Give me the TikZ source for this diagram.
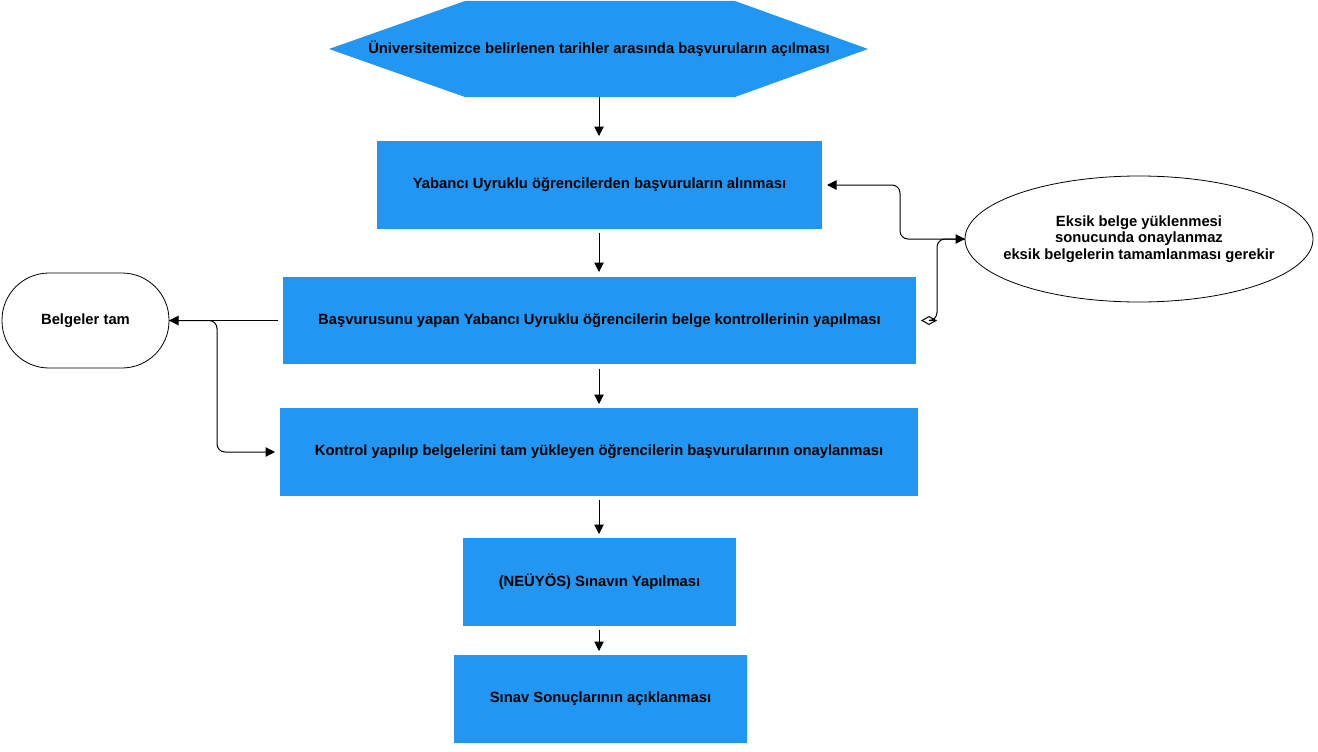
\documentclass[tikz,border=0pt]{standalone}
\usepackage{fontspec}
\setmainfont{Liberation Sans}
\usetikzlibrary{arrows.meta,shapes.geometric}
\definecolor{boxblue}{RGB}{33,150,243}
\tikzset{
  txt/.style={font=\bfseries\fontsize{14.8}{16.5}\selectfont, align=center, inner sep=0pt, outer sep=0pt},
  bluebox/.style={txt, fill=boxblue, draw=none},
  whiteshape/.style={txt, draw=black, line width=0.8pt, fill=white},
  arr/.style={-{Triangle[length=9.5pt,width=9.5pt]}, line width=1pt, black},
}
\begin{document}
\begin{tikzpicture}[x=1pt,y=-1pt]
\useasboundingbox (0,0) rectangle (1318,752);
% hexagon
\fill[boxblue] (329,49) -- (465,1) -- (735,1) -- (868,49) -- (735,97) -- (465,97) -- cycle;
\node[txt, minimum width=539pt, minimum height=96pt] (hex) at (599,49) {Üniversitemizce belirlenen tarihler arasında başvuruların açılması};
\node[bluebox, minimum width=445pt, minimum height=88pt] (b1) at (599.5,185) {Yabancı Uyruklu öğrencilerden başvuruların alınması};
\node[bluebox, minimum width=633pt, minimum height=87pt] (b2) at (599.5,320.5) {Başvurusunu yapan Yabancı Uyruklu öğrencilerin belge kontrollerinin yapılması};
\node[bluebox, minimum width=638pt, minimum height=88pt] (b3) at (599,452) {Kontrol yapılıp belgelerini tam yükleyen öğrencilerin başvurularının onaylanması};
\node[bluebox, minimum width=273pt, minimum height=88pt] (b4) at (599.5,582) {(NEÜYÖS) Sınavın Yapılması};
\node[bluebox, minimum width=293pt, minimum height=88pt] (b5) at (600.5,699) {Sınav Sonuçlarının açıklanması};
\node[whiteshape, rounded corners=47pt, minimum width=167pt, minimum height=95pt] (belg) at (85.5,320.5) {Belgeler tam};
\node[whiteshape, ellipse, inner xsep=-80pt, inner ysep=-10pt, minimum width=348pt, minimum height=126pt] (ell) at (1139,239) {Eksik belge yüklenmesi\\sonucunda onaylanmaz\\eksik belgelerin tamamlanması gerekir};
% vertical flow
\draw[arr] (hex.south) -- ([yshift=5pt]hex.south |- b1.north);
\draw[arr, shorten <=4pt] (hex.south |- b1.south) -- ([yshift=5pt]hex.south |- b2.north);
\draw[arr, shorten <=5pt] (hex.south |- b2.south) -- ([yshift=4pt]hex.south |- b3.north);
\draw[arr, shorten <=4pt] (hex.south |- b3.south) -- ([yshift=4pt]hex.south |- b4.north);
\draw[arr, shorten <=4pt] (hex.south |- b4.south) -- ([yshift=4pt]hex.south |- b5.north);
% left connectors
\draw[arr, shorten <=5pt] (b2.west) -- (belg.east);
\draw[arr, rounded corners=8pt] (belg.east) -- (217,320.5) |- ([xshift=-5pt]b3.west);
% right connectors
\draw[arr, rounded corners=8pt] (ell.west) -- (900,239) |- ([xshift=5pt]b1.east);
\draw[{Diamond[open,length=16pt,width=9pt]}-{Triangle[length=9.5pt,width=9.5pt]}, line width=1pt, rounded corners=8pt] ([xshift=5pt]b2.east) -- (937,320.5) |- (ell.west);
\end{tikzpicture}
\end{document}
